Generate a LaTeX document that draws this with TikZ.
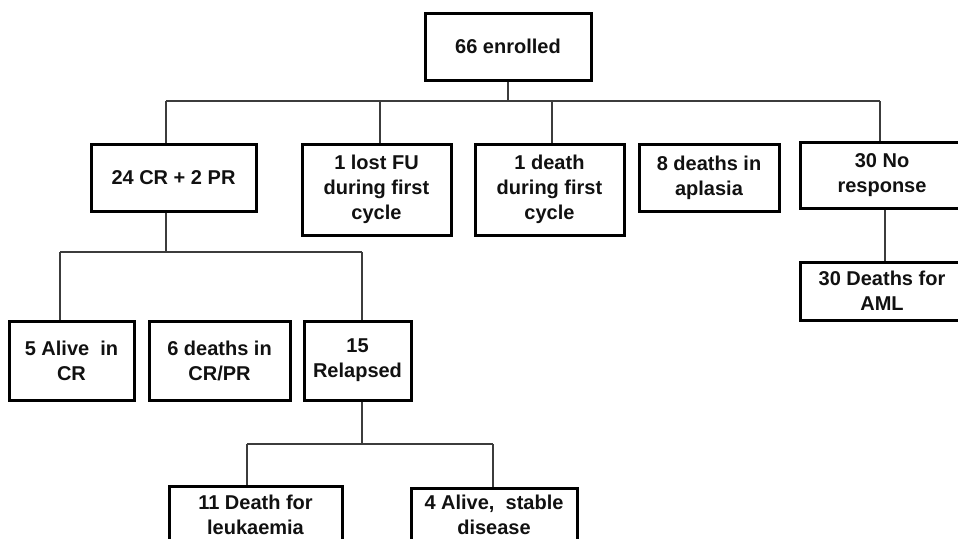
\documentclass[tikz,border=0pt]{standalone}
\usepackage{fontspec}
\setmainfont{Liberation Sans}

\tikzset{
    box/.style={draw=borderColour, line width=3pt, align=center, inner sep=2pt,
        text=textColour, font=\bfseries\fontsize{20}{25}\selectfont},
    link/.style={draw=linkColour, line width=1.1pt}
}

\begin{document}
\begin{tikzpicture}[x=1pt, y=-1pt]
    % Define colours
    \definecolor{borderColour}{HTML}{000000}
    \definecolor{linkColour}{HTML}{3C3C3C}
    \definecolor{textColour}{HTML}{111111}

    % Fix the page and cut off what runs past it
    \useasboundingbox (0,0) rectangle (958,538);
    \clip (0,0) rectangle (958,538);

    % Levels of the horizontal lines
    \coordinate (busA) at (0,101);
    \coordinate (busB) at (0,252);
    \coordinate (busC) at (0,444);

    % Draw the top box
    \node[box, minimum width=166pt, minimum height=67pt] (enrol) at (508,46.5) {66 enrolled};

    % Draw the first row
    \node[box, minimum width=165pt, minimum height=67pt] (cr) at (173.5,177.5) {24 CR + 2 PR};
    \node[box, minimum width=149pt, minimum height=91pt] (lost) at (376.5,189.5) {1 lost FU\\during first\\cycle};
    \node[box, minimum width=149pt, minimum height=91pt] (death) at (549.5,189.5) {1 death\\during first\\cycle};
    \node[box, minimum width=140pt, minimum height=67pt] (aplasia) at (709,177.5) {8 deaths in\\aplasia};
    \node[box, minimum width=164pt, minimum height=66pt] (nores) at (882,175) {30 No\\response};
    \node[box, minimum width=164pt, minimum height=58pt] (aml) at (882,291) {30 Deaths for\\AML};

    % Draw the second row
    \node[box, minimum width=125pt, minimum height=79pt] (alive) at (71.5,360.5) {5 Alive\ \ in\\CR};
    \node[box, minimum width=141pt, minimum height=79pt] (crpr) at (219.5,360.5) {6 deaths in\\CR/PR};
    \node[box, minimum width=107pt, minimum height=79pt] (relap) at (357.5,360.5) {15\\Relapsed};

    % Draw the third row
    \node[box, minimum width=173pt, minimum height=58pt] (leuk) at (255.5,515) {11 Death for\\leukaemia};
    \node[box, minimum width=166pt, minimum height=54pt] (stable) at (494,515) {4 Alive,\ \ stable\\disease};

    % Connect the top box to the first row
    \draw[link] (enrol.south) -- (enrol.south |- busA);
    \draw[link] ([xshift=-7.5pt]cr.north |- busA) -- ([xshift=-2pt]nores.north |- busA);
    \foreach \n/\dx in {cr/-7.5, lost/3.5, death/2.5, nores/-2}
        \draw[link] ([xshift=\dx pt]\n.north) -- ([xshift=\dx pt]\n.north |- busA);

    % Connect no response to deaths
    \draw[link] ([xshift=3pt]nores.south) -- ([xshift=3pt]aml.north);

    % Connect CR + PR to the second row
    \draw[link] ([xshift=-7.5pt]cr.south) -- ([xshift=-7.5pt]cr.south |- busB);
    \draw[link] ([xshift=-11.5pt]alive.north |- busB) -- ([xshift=4.5pt]relap.north |- busB);
    \foreach \n/\dx in {alive/-11.5, relap/4.5}
        \draw[link] ([xshift=\dx pt]\n.north) -- ([xshift=\dx pt]\n.north |- busB);

    % Connect relapsed to the third row
    \draw[link] ([xshift=4.5pt]relap.south) -- ([xshift=4.5pt]relap.south |- busC);
    \draw[link] ([xshift=-8.5pt]leuk.north |- busC) -- ([xshift=-1pt]stable.north |- busC);
    \foreach \n/\dx in {leuk/-8.5, stable/-1}
        \draw[link] ([xshift=\dx pt]\n.north) -- ([xshift=\dx pt]\n.north |- busC);

\end{tikzpicture}
\end{document}
